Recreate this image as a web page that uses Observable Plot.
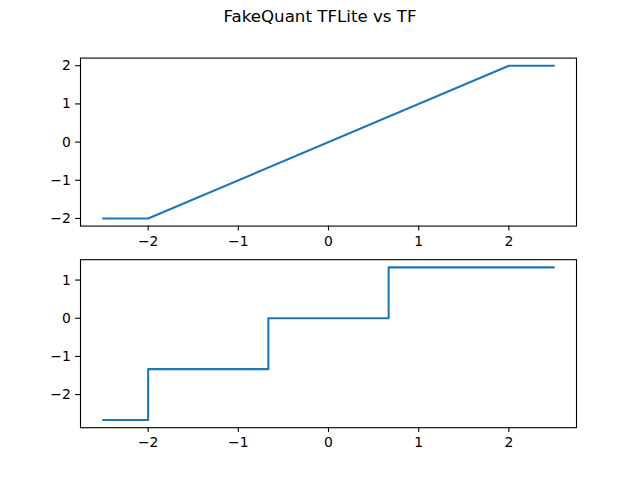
<!DOCTYPE html>
<html>
<head>
<meta charset="utf-8">
<script src="https://cdn.jsdelivr.net/npm/d3@7"></script>
<script src="https://cdn.jsdelivr.net/npm/@observablehq/plot@0.6"></script>
<style>
  html, body { margin: 0; padding: 0; background: white; }
  #fig { position: relative; width: 640px; height: 480px; background: white; font-family: "DejaVu Sans", sans-serif; }
  #title { position: absolute; left: 0; width: 640px; top: 9px; text-align: center; font-size: 16.67px; line-height: 1; color: black; z-index: 5; }
  .panel { position: absolute; left: 0; }
  .panel svg { overflow: visible; }
</style>
</head>
<body>
<div id="fig">
  <div id="p1" class="panel" style="top:0px"></div>
  <div id="p2" class="panel" style="top:250px"></div>
  <div id="title">FakeQuant TFLite vs TF</div>
</div>
<script>
// Top panel: TF fake quant (piecewise linear)
const topX = [-2.5, -2.0, 2.0, 2.5];
const topY = [-2.0, -2.0, 2.0, 2.0];
// Bottom panel: TFLite fake quant (steps)
const botX = [-2.5, -2.0, -2.0, -0.667, -0.667, 0.667, 0.667, 2.5];
const botY = [-2.667, -2.667, -1.333, -1.333, 0.0, 0.0, 1.333, 1.333];
// Tick labels
const xTicks = [-2, -1, 0, 1, 2];
const topYTicks = [-2, -1, 0, 1, 2];
const botYTicks = [-2, -1, 0, 1];

const topData = topX.map((x, i) => ({x, y: topY[i]}));
const botData = botX.map((x, i) => ({x, y: botY[i]}));

function pad(lo, hi) { const m = (hi - lo) * 0.05; return [lo - m, hi + m]; }

const tick = 4.86;
const fmt = d3.format("d");
const common = {
  width: 640,
  marginLeft: 80,
  marginRight: 64,
  style: {fontSize: "13.9px", fontFamily: "DejaVu Sans, sans-serif", color: "black", background: "transparent", overflow: "visible"}
};

function panel(data, yTicks, height, mt, mb) {
  const xs = data.map(d => d.x), ys = data.map(d => d.y);
  return Plot.plot({
    ...common,
    height,
    marginTop: mt,
    marginBottom: mb,
    x: {domain: pad(d3.min(xs), d3.max(xs)), ticks: xTicks, label: null},
    y: {domain: pad(d3.min(ys), d3.max(ys)), ticks: yTicks, label: null},
    marks: [
      Plot.axisX({ticks: xTicks, tickFormat: fmt, tickSize: tick, tickPadding: tick, strokeWidth: 1.1, label: null, fill: "black"}),
      Plot.axisY({ticks: yTicks, tickFormat: fmt, tickSize: tick, tickPadding: tick, strokeWidth: 1.1, label: null, fill: "black"}),
      Plot.line(data, {x: "x", y: "y", stroke: "#1f77b4", strokeWidth: 2.08}),
      Plot.frame({stroke: "black", strokeWidth: 1.1})
    ]
  });
}

document.getElementById("p1").appendChild(panel(topData, topYTicks, 250, 57.6, 250 - 225.6));
document.getElementById("p2").appendChild(panel(botData, botYTicks, 230, 9.2, 230 - 177.2));
</script>
</body>
</html>
